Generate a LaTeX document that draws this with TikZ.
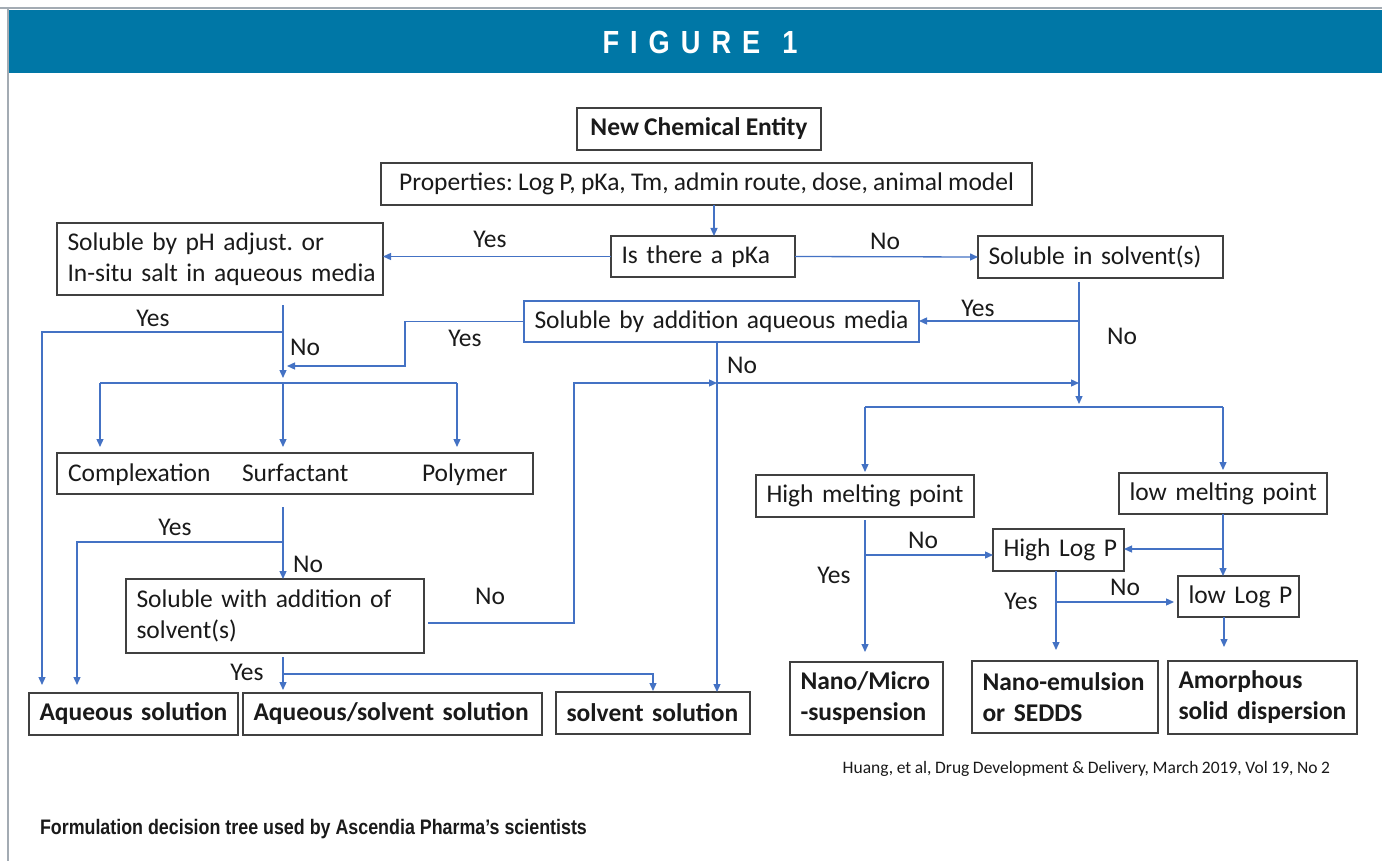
\documentclass[tikz,border=0pt]{standalone}
\usepackage{fontspec}
\setmainfont{Carlito}[WordSpace=0.9]
\newfontfamily\condfont[FakeStretch=0.85]{Liberation Sans}
\usetikzlibrary{arrows.meta}
\definecolor{band}{HTML}{0077A6}
\definecolor{flow}{HTML}{4472C4}
\definecolor{frame}{HTML}{404040}
\definecolor{rulegray}{HTML}{A3ABB3}
\definecolor{ink}{HTML}{1A1A1A}
\frenchspacing

\begin{document}
\begin{tikzpicture}[x=1pt,y=-1pt,
  every node/.style={inner sep=0pt, outer sep=0pt, text=ink},
  boxtext/.style={font=\fontsize{25.5}{31}\selectfont},
  box/.style={boxtext, draw=frame, line width=1.4pt, fill=white,
              inner xsep=10.5pt, inner ysep=0pt, align=left},
  bbox/.style={box, font=\bfseries\fontsize{25.5}{31}\selectfont},
  lbl/.style={boxtext},
  link/.style={draw=flow, line width=1.3pt},
  arr/.style={link, -{Triangle[length=8pt,width=7pt]}}
]
\useasboundingbox (0,0) rectangle (1382,861);
\fill[white] (0,0) rectangle (1382,861);

% page frame and title band
\fill[band] (9,10) rectangle (1382,73);
\draw[rulegray, line width=2pt] (0,8) -- (1382,8);
\draw[rulegray, line width=2pt] (8,8) -- (8,861);
\node[text=white, font=\condfont\bfseries\fontsize{32}{36}\selectfont] (title) at (700,42)
  {F\hspace{11pt}I\hspace{11pt}G\hspace{11pt}U\hspace{11pt}R\hspace{11pt}E\hspace{22pt}1};

% boxes
\node[bbox, align=center, minimum width=244pt, minimum height=42pt] (nce) at (699,129) {New Chemical Entity};
\node[box, align=center, minimum width=651pt, minimum height=42pt] (props) at (706.5,184) {Properties: Log P, pKa, Tm, admin route, dose, animal model};
\node[box, text width=163pt, minimum height=41pt] (pka) at (703,256.5) {\mbox{Is there a pKa}};
\node[box, text width=305pt, minimum height=72pt] (phadj) at (220,259) {\mbox{Soluble by pH adjust. or}\\\mbox{In-situ salt in aqueous media}};
\node[box, text width=224pt, minimum height=42pt] (solv) at (1100.5,257) {\mbox{Soluble in solvent(s)}};
\node[box, draw=flow, text width=374pt, minimum height=41pt] (aqmed) at (721.5,321.5) {\mbox{Soluble by addition aqueous media}};
\node[box, minimum width=476pt, minimum height=41pt] (csp) at (295,473.5) {};
\node[boxtext, anchor=base west] (cplx) at (68,481.5) {Complexation};
\node[boxtext, anchor=base west] (surf) at (242,481.5) {Surfactant};
\node[boxtext, anchor=base west] (poly) at (422,481.5) {Polymer};
\node[box, text width=277pt, minimum height=74pt] (swas) at (275,616) {\mbox{Soluble with addition of}\\\mbox{solvent(s)}};
\node[bbox, text width=188pt, minimum height=42pt] (aqsol) at (133.5,714) {\mbox{Aqueous solution}};
\node[bbox, text width=278pt, minimum height=42pt] (aqsv) at (392.5,714) {\mbox{Aqueous/solvent solution}};
\node[bbox, text width=173pt, minimum height=42pt] (svsol) at (653,713) {\mbox{solvent solution}};
\node[box, text width=197pt, minimum height=42pt] (hmp) at (865,496) {\mbox{High melting point}};
\node[box, text width=187pt, minimum height=41pt] (lmp) at (1223,493.5) {\mbox{low melting point}};
\node[box, text width=110pt, minimum height=42pt] (hlp) at (1058.5,550) {\mbox{High Log P}};
\node[box, text width=100pt, minimum height=41pt] (llp) at (1238.5,596.5) {\mbox{low Log P}};
\node[bbox, text width=132pt, minimum height=73pt] (nano) at (866.5,698.5) {\mbox{Nano/Micro}\\\mbox{-suspension}};
\node[bbox, text width=165pt, minimum height=72pt] (nemul) at (1065,697) {\mbox{Nano-emulsion}\\\mbox{or SEDDS}};
\node[bbox, text width=168pt, minimum height=73pt] (amor) at (1262.5,697.5) {\mbox{Amorphous}\\\mbox{solid dispersion}};

% junction points of the flow lines
\coordinate (xA) at (714,0);
\coordinate (pa) at (283,383);
\coordinate (d1) at (100,383);
\coordinate (d3) at (457,383);
\coordinate (yA) at (283,332);
\coordinate (aqL) at (42,693);
\coordinate (kY) at (405,366);
\coordinate (yB) at (283,542);
\coordinate (aqL2) at (77,693);
\coordinate (nS) at (574,623);
\coordinate (mL) at (717,383);
\coordinate (yC) at (283,674);
\coordinate (sv) at (1079,407);
\coordinate (svy) at (1079,321);
\coordinate (hN) at (866,555);
\coordinate (lB) at (1223,549);
\coordinate (hX) at (1056,602);
\coordinate (lX) at (1224,617);

% top of the tree
\draw[arr] (props.south -| xA) -- (pka.north -| xA);
\draw[arr] (pka.west) -- (phadj.east |- pka.west);
\draw[arr] (pka.east) -- (solv.west);
\node[lbl] (yes1) at (490,239) {Yes};
\node[lbl] (no1) at (885,241) {No};

% solvent branch
\draw[arr, shorten >=3pt] (solv.south -| sv) ++(0,4) -- (sv);
\draw[arr] (svy) -- (aqmed.east |- svy);
\node[lbl] (yes2) at (978,308) {Yes};
\node[lbl] (no2) at (1122,336) {No};

% pH / salt branch
\draw[arr, shorten >=5pt] (phadj.south -| pa) ++(0,10) -- (pa);
\draw[arr, shorten >=8pt] (yA) -| (aqL);
\node[lbl] (yes3) at (153,318) {Yes};
\node[lbl] (no3) at (305,347) {No};
\draw[arr, shorten >=4pt] (aqmed.west) -| (kY) -- (kY -| pa);
\node[lbl] (yes4) at (465,338) {Yes};

% excipient fan-out
\draw[link] (d1) -- (d3);
\draw[arr, shorten >=6pt] (d1) -- (csp.north -| d1);
\draw[arr, shorten >=6pt] (pa) -- (csp.north -| pa);
\draw[arr, shorten >=6pt] (d3) -- (csp.north -| d3);

\draw[arr] (csp.south -| pa) ++(0,13) -- (swas.north -| pa);
\draw[arr, shorten >=8pt] (yB) -| (aqL2);
\node[lbl] (yes5) at (175,527) {Yes};
\node[lbl] (no5) at (308,564) {No};

% co-solvent step
\draw[arr] (swas.east |- nS) ++(4,0) -- (nS) |- (mL);
\draw[arr] (mL) -- (mL -| sv);
\node[lbl] (no6) at (490,596) {No};
\draw[arr] (aqmed.south -| mL) -- (svsol.north -| mL);
\node[lbl] (no4) at (742,365) {No};
\draw[arr, shorten >=3pt] (swas.south -| pa) ++(0,4) -- (aqsv.north -| pa);
\draw[arr, shorten >=1pt] (yC) -| (svsol.north);
\node[lbl] (yes6) at (247,672) {Yes};

% melting point branches
\draw[link] (hmp.north |- sv) -- (lmp.north |- sv);
\draw[arr, shorten >=3pt] (hmp.north |- sv) -- (hmp.north);
\draw[arr, shorten >=3pt] (lmp.north |- sv) -- (lmp.north);

\draw[arr, shorten >=10pt] (hmp.south) ++(0,3) -- (nano.north -| hmp.south);
\draw[arr] (hN) -- (hlp.west |- hN);
\node[lbl] (no7) at (923,540) {No};
\node[lbl] (yes7) at (834,575) {Yes};

\draw[arr] (lmp.south) -- (llp.north -| lmp.south);
\draw[arr] (lB) -- (hlp.east |- lB);

\draw[arr, shorten >=11pt] (hlp.south -| hX) -- (nemul.north -| hX);
\draw[arr, shorten >=4pt] (hX) -- (llp.west |- hX);
\node[lbl] (yes8) at (1021,601) {Yes};
\node[lbl] (no8) at (1125,587) {No};
\draw[arr, shorten >=14pt] (llp.south -| lX) -- (amor.north -| lX);

% source line and caption
\node[anchor=base east, font=\fontsize{17.5}{21}\selectfont] (cite) at (1330,773)
  {Huang, et al, Drug Development \& Delivery, March 2019, Vol 19, No 2};
\node[anchor=base west, font=\condfont\bfseries\fontsize{21}{24}\selectfont] (caption) at (40,834)
  {Formulation decision tree used by Ascendia Pharma’s scientists};
\end{tikzpicture}
\end{document}
